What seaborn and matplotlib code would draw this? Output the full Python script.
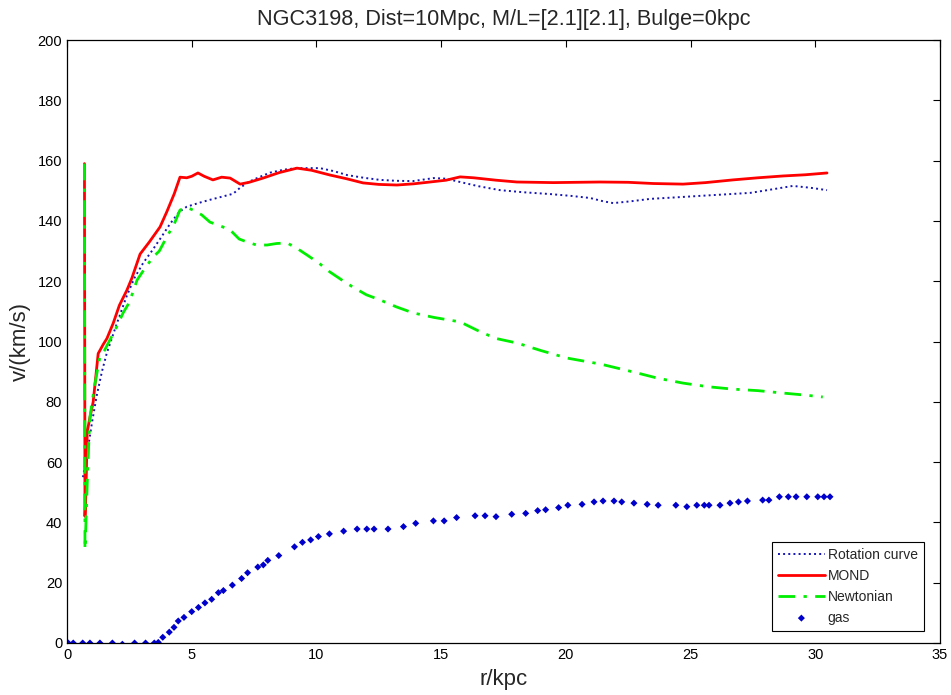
import numpy as np
import pandas as pd
import matplotlib
matplotlib.use("Agg")
import matplotlib.pyplot as plt
import seaborn as sns

title = "NGC3198, Dist=10Mpc, M/L=[2.1][2.1], Bulge=0kpc"

rot_r = [0.64, 0.85, 1.0, 1.19, 1.4, 1.59, 2.0, 2.39, 2.7, 3.05, 3.4, 3.73, 4.13, 4.5, 4.8, 5.3, 5.73, 6.2,
         6.66, 6.94, 7.3, 7.7, 8.14, 8.7, 9.22, 9.7, 10.14, 10.7, 11.23, 11.9, 12.55, 13.2, 13.87, 14.7,
         15.2, 15.76, 16.5, 17.36, 18.3, 19.37, 20.2, 20.97, 21.5, 21.9, 22.6, 23.38, 24.4, 25.38, 26.4,
         27.4, 28.3, 29.1, 29.8, 30.47]
rot_v = [55, 65, 73, 82, 90, 96, 106, 115, 121, 126, 130, 134, 139, 143, 144.7, 146, 147, 148,
         149, 151, 153, 154.5, 156, 157, 157.5, 157.5, 157.5, 156.5, 155.2, 154.3, 153.6, 153.3, 153.2, 154.2,
         154, 152.9, 151.5, 150.2, 149.5, 148.9, 148.3, 147.6, 146.5, 145.9, 146.5, 147.3, 147.8, 148.3, 148.8,
         149.3, 150.5, 151.6, 151, 150.2]

mond_r = [0.70, 0.72, 0.76, 0.79, 0.81, 0.9, 1.05, 1.15, 1.25, 1.45, 1.6, 1.85, 2.1, 2.4, 2.6, 2.93, 3.3,
          3.73, 4.0, 4.3, 4.53, 4.8, 5.0, 5.25, 5.5, 5.85, 6.2, 6.54, 6.94, 7.3, 7.86, 8.5, 9.22, 9.8,
          10.55, 11.2, 11.87, 12.5, 13.23, 13.9, 14.55, 15.2, 15.76, 16.3, 17.2, 18.04, 19.5, 21.37, 22.5,
          23.5, 24.7, 25.6, 26.7, 27.7, 28.7, 29.6, 30.47]
mond_v = [159, 42, 50, 62, 70, 74, 80, 88, 96, 99, 101, 106, 112, 117, 121, 129, 133,
          138, 143, 149, 154.5, 154.3, 154.8, 155.9, 154.8, 153.6, 154.5, 154.2, 152.2, 152.8, 154.2, 156, 157.5, 156.8,
          155.2, 154, 152.6, 152.1, 151.9, 152.3, 152.9, 153.5, 154.6, 154.3, 153.5, 152.9, 152.7, 152.9, 152.8,
          152.4, 152.2, 152.7, 153.6, 154.3, 154.9, 155.3, 155.9]

newt_r = [0.70, 0.72, 0.76, 0.82, 0.88, 0.92, 1.1, 1.32, 1.5, 1.72, 2.0, 2.25, 2.5, 2.81, 3.1, 3.45, 3.7,
          4.0, 4.3, 4.53, 4.8, 5.05, 5.4, 5.73, 6.1, 6.54, 6.9, 7.22, 7.6, 8.02, 8.4, 8.82, 9.2, 9.62,
          10.1, 10.55, 11.0, 11.47, 12.0, 12.55, 13.2, 13.87, 14.7, 15.76, 16.5, 17.2, 18.04, 19.0, 20.05,
          21.4, 22.7, 23.7, 24.7, 25.7, 26.7, 27.7, 28.7, 29.5, 30.3]
newt_v = [159, 31, 40, 55, 68, 75, 85, 95, 97, 100.5, 105, 109.5, 113, 120.4, 124, 128, 130,
          134.7, 139, 143.6, 144.5, 143.6, 142, 139.6, 138.5, 137, 134, 133, 132, 132, 132.5, 132.7, 131, 128.7,
          126, 123, 120.5, 118, 115.5, 113.8, 111.5, 109.5, 108, 106.5, 103.5, 101, 99.5, 97, 94.5,
          92.5, 89.9, 87.8, 86.2, 85, 84.2, 83.7, 82.9, 82.3, 81.6]

gas_r = [0.05, 0.25, 0.63, 0.92, 1.32, 1.82, 2.22, 2.71, 3.15, 3.50, 3.66, 3.84, 4.10, 4.29, 4.46, 4.69,
         5.0, 5.27, 5.53, 5.80, 6.07, 6.27, 6.63, 7.0, 7.24, 7.65, 7.87, 8.05, 8.49, 9.12, 9.44, 9.77,
         10.08, 10.52, 11.09, 11.63, 12.02, 12.31, 12.87, 13.49, 13.98, 14.69, 15.12, 15.62, 16.36, 16.76,
         17.2, 17.83, 18.39, 18.87, 19.19, 19.71, 20.08, 20.65, 21.13, 21.49, 21.93, 22.24, 22.73, 23.26,
         23.70, 24.41, 24.85, 25.25, 25.55, 25.74, 26.18, 26.58, 26.92, 27.28, 27.89, 28.14, 28.56, 28.92,
         29.23, 29.66, 30.10, 30.35, 30.59]
gas_v = [0, 0, 0, 0, 0, 0, -0.4, 0, 0, 0, 0.2, 1.9, 3.6, 5.2, 7.3, 8.5,
         10.4, 11.8, 13.3, 14.5, 16.7, 17.4, 19.2, 21.4, 23.3, 25.2, 25.9, 27.4, 29.0, 31.9, 33.4, 34.2,
         35.3, 36.2, 37.1, 37.8, 37.8, 37.8, 37.8, 38.6, 39.7, 40.5, 40.5, 41.6, 42.2, 42.2,
         41.9, 42.7, 43.0, 43.9, 44.2, 44.9, 45.7, 46.0, 46.8, 47.1, 47.1, 46.8, 46.4, 46.0,
         45.7, 45.7, 45.2, 45.7, 45.7, 45.7, 45.7, 46.4, 46.8, 47.1, 47.4, 47.4, 48.5, 48.5,
         48.5, 48.5, 48.5, 48.5, 48.5]

sns.set_style("white")
plt.rcParams['font.family'] = ['Liberation Sans', 'DejaVu Sans']

fig = plt.figure(figsize=(9.51, 6.95), dpi=100)
ax = fig.add_axes([67/951, 52/695, 873/951, 603/695])

sns.lineplot(x=rot_r, y=rot_v, sort=False, estimator=None, ax=ax, color='#1414b4',
             linestyle=':', linewidth=1.4, label='Rotation curve')
sns.lineplot(x=mond_r, y=mond_v, sort=False, estimator=None, ax=ax, color='#ff0000',
             linestyle='-', linewidth=2.0, label='MOND')
sns.lineplot(x=newt_r, y=newt_v, sort=False, estimator=None, ax=ax, color='#00ee00',
             linestyle=(0, (6, 3, 1.2, 3)), linewidth=2.0, label='Newtonian')
sns.scatterplot(x=gas_r, y=gas_v, ax=ax, color='#0000cc', marker='D', s=13,
                edgecolor='none', label='gas')

ax.set_xlim(0, 35)
ax.set_ylim(0, 200)
ax.set_xticks(range(0, 36, 5))
ax.set_yticks(range(0, 201, 20))
ax.tick_params(direction='in', top=True, right=True, length=5, width=0.8, labelsize=10.5,
               colors='black')
for s in ax.spines.values():
    s.set_color('black')
    s.set_linewidth(0.9)

ax.set_xlabel('r/kpc', fontsize=16, labelpad=5)
ax.set_ylabel('v/(km/s)', fontsize=16, labelpad=5)
ax.set_title(title, fontsize=15.6, pad=11)

leg = ax.legend(loc='lower right', bbox_to_anchor=(0.9817, 0.0199), borderaxespad=0,
                fontsize=10, frameon=True, fancybox=False,
                edgecolor='black', framealpha=1, handlelength=3.4,
                handletextpad=0.2, labelspacing=0.5, borderpad=0.45)
leg.get_frame().set_linewidth(0.8)

fig.savefig('out.png', dpi=100, facecolor='white')
